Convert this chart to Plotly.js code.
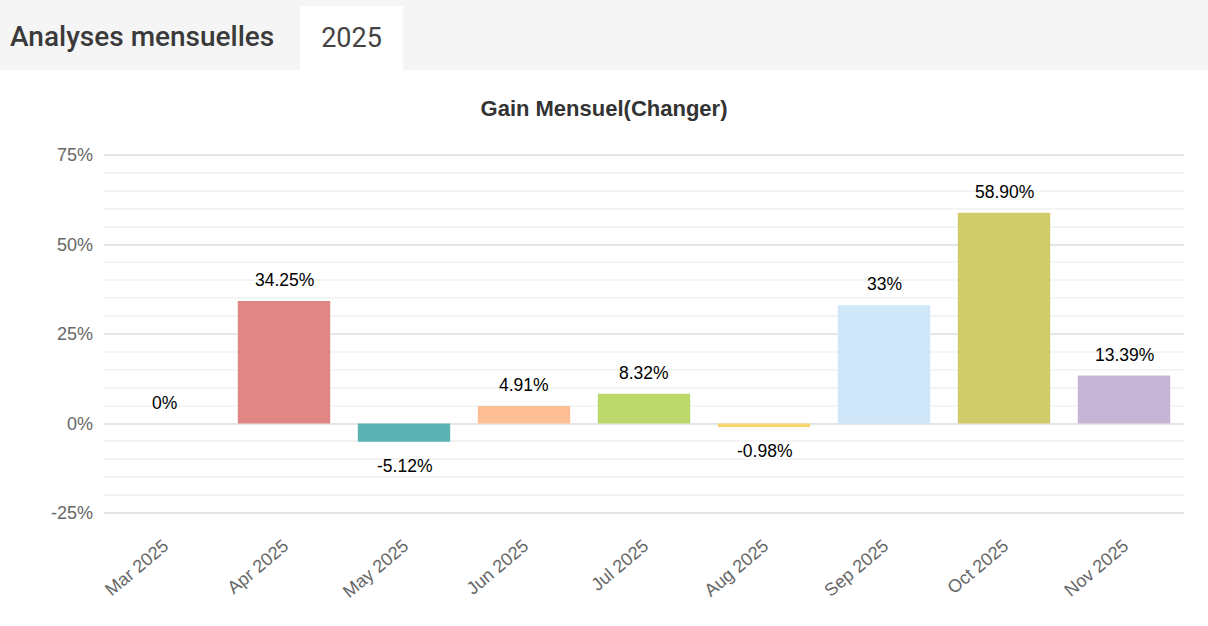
<!DOCTYPE html>
<html>
<head>
<meta charset="utf-8">
<script src="https://cdn.plot.ly/plotly-3.0.1.min.js"></script>
<style>
  html, body { margin: 0; padding: 0; background: #ffffff; width: 1208px; height: 626px; overflow: hidden; }
  #header { position: absolute; left: 0; top: 0; width: 1208px; height: 70px; background: #f5f5f5; font-family: Roboto, sans-serif; }
  #htitle { position: absolute; left: 10px; top: 17px; font-size: 28px; font-weight: 500; color: #3a3a3a; line-height: 40px; }
  #tab { position: absolute; left: 300px; top: 6px; width: 103px; height: 64px; background: #ffffff; font-size: 27px; color: #444; text-align: center; line-height: 64px; }
  #chart { position: absolute; left: 0; top: 70px; width: 1208px; height: 556px; }
</style>
</head>
<body>
<div id="header"><div id="htitle">Analyses mensuelles</div><div id="tab">2025</div></div>
<div id="chart"></div>
<script>
const months = ["Mar 2025", "Apr 2025", "May 2025", "Jun 2025", "Jul 2025", "Aug 2025", "Sep 2025", "Oct 2025", "Nov 2025"];
const gains = [0, 34.25, -5.12, 4.91, 8.32, -0.98, 33, 58.90, 13.39];
const labels = ["0%", "34.25%", "-5.12%", "4.91%", "8.32%", "-0.98%", "33%", "58.90%", "13.39%"];
const colors = ["#e08785", "#e08785", "#5cb3b3", "#ffbf94", "#bcd86a", "#f6d46e", "#d0e7f9", "#d1cc6b", "#c7b5d6"];
const yTicks = [-25, 0, 25, 50, 75];
const yTickText = ["-25%", "0%", "25%", "50%", "75%"];

const annotations = months.map((m, i) => ({
  x: m, y: gains[i], xref: 'x', yref: 'y',
  text: labels[i], showarrow: false,
  yanchor: gains[i] < 0 ? 'top' : 'bottom',
  yshift: gains[i] < 0 ? -12 : 9,
  font: { family: 'Liberation Sans, Arial, sans-serif', size: 17.5, color: '#000000' }
}));

const trace = {
  type: 'bar', x: months, y: gains,
  marker: { color: colors },
  width: 0.77,
  hoverinfo: 'none'
};

const layout = {
  width: 1208, height: 556,
  margin: { l: 104, r: 24, t: 83, b: 111 },
  paper_bgcolor: '#ffffff', plot_bgcolor: '#ffffff',
  showlegend: false,
  title: { text: '<b>Gain Mensuel(Changer)</b>', x: 0.5, xanchor: 'center', y: 1 - 38/556, yanchor: 'middle', yref: 'container',
           font: { family: 'Liberation Sans, Arial, sans-serif', size: 22, color: '#333333' } },
  xaxis: {
    type: 'category', showgrid: false, zeroline: false, showline: false, ticks: '',
    tickangle: -40, ticklabelstandoff: 16,
    tickfont: { family: 'Liberation Sans, Arial, sans-serif', size: 18, color: '#666666' },
    fixedrange: true
  },
  yaxis: {
    range: [-25.56, 75.56], tickvals: yTicks, ticktext: yTickText,
    showgrid: true, gridcolor: '#e6e6e6', gridwidth: 2,
    zeroline: true, zerolinecolor: '#e6e6e6', zerolinewidth: 2,
    minor: { dtick: 5, showgrid: true, gridcolor: '#f4f4f4', gridwidth: 2 },
    ticks: '', ticklabelstandoff: 10,
    tickfont: { family: 'Liberation Sans, Arial, sans-serif', size: 18, color: '#666666' },
    fixedrange: true
  },
  annotations: annotations
};

Plotly.newPlot('chart', [trace], layout, { displayModeBar: false, staticPlot: true });
</script>
</body>
</html>
